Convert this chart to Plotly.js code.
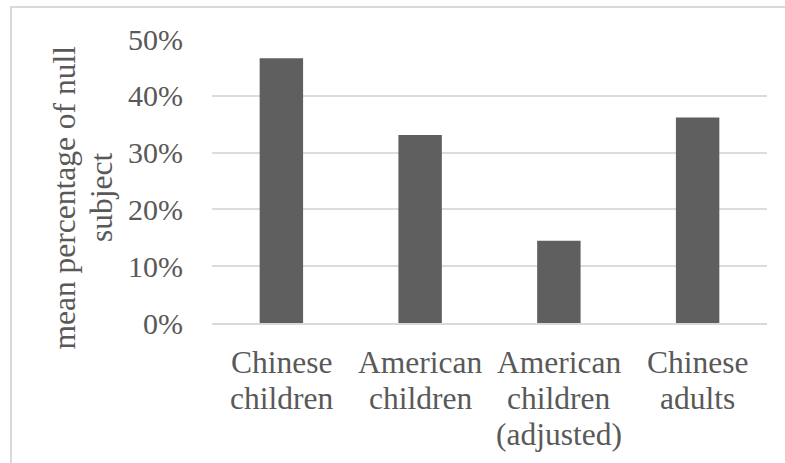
<!DOCTYPE html>
<html>
<head>
<meta charset="utf-8">
<script src="https://cdn.plot.ly/plotly-3.0.1.min.js"></script>
<style>
  html, body { margin: 0; padding: 0; background: #ffffff; }
  #wrap { position: relative; width: 785px; height: 463px; overflow: hidden; }
  #frame { position: absolute; left: 10px; top: 6px; width: 800px; height: 500px;
           border-left: 2px solid #d9d9d9; border-top: 2px solid #d9d9d9; }
  #chart { position: absolute; left: 0; top: 0; width: 785px; height: 463px; }
</style>
</head>
<body>
<div id="wrap">
  <div id="frame"></div>
  <div id="chart"></div>
</div>
<script>
// Null-subject rates by speaker group
const categories = ["Chinese children", "American children", "American children (adjusted)", "Chinese adults"];
const categoryLines = [
  ["Chinese", "children"],
  ["American", "children"],
  ["American", "children", "(adjusted)"],
  ["Chinese", "adults"]
];
const nullSubjectRate = [0.466, 0.331, 0.145, 0.362];
const yTickVals = [0, 0.1, 0.2, 0.3, 0.4, 0.5];
const yTickText = ["0%", "10%", "20%", "30%", "40%", "50%"];
const yTitleLines = ["mean percentage of null", "subject"];

const textColor = "#595959";
const serif = "Liberation Serif";
const linePitch = 36;

const annotations = [];
categories.forEach((cat, i) => {
  categoryLines[i].forEach((line, j) => {
    annotations.push({
      x: cat, xref: "x", y: 0, yref: "paper",
      xanchor: "center", yanchor: "top",
      yshift: -(20 + j * linePitch),
      text: line, showarrow: false,
      font: { family: serif, size: 31.5, color: textColor }
    });
  });
});
yTitleLines.forEach((line, j) => {
  annotations.push({
    x: 0, xref: "paper", y: 0.44, yref: "paper",
    xanchor: "center", yanchor: "middle",
    xshift: -147.5 + j * 36.5,
    textangle: -90,
    text: line, showarrow: false,
    font: { family: serif, size: 31.5, color: textColor }
  });
});

const trace = {
  type: "bar",
  x: categories,
  y: nullSubjectRate,
  marker: { color: "#5f5f5f" },
  hoverinfo: "x+y"
};

const layout = {
  width: 785, height: 463,
  margin: { l: 212, r: 18, t: 39, b: 140 },
  paper_bgcolor: "rgba(0,0,0,0)",
  plot_bgcolor: "rgba(0,0,0,0)",
  bargap: 0.687,
  showlegend: false,
  font: { family: serif, color: textColor },
  xaxis: {
    type: "category",
    showticklabels: false,
    showgrid: false,
    zeroline: false,
    showline: true,
    linecolor: "#d9d9d9",
    linewidth: 2,
    ticks: ""
  },
  yaxis: {
    range: [0, 0.5],
    tickvals: yTickVals,
    ticktext: yTickText,
    showgrid: true,
    gridcolor: "#dcdcdc",
    gridwidth: 2,
    zeroline: false,
    showline: false,
    ticks: "",
    ticklabelstandoff: 28,
    tickfont: { family: serif, size: 30, color: textColor }
  },
  annotations: annotations
};

Plotly.newPlot("chart", [trace], layout, { staticPlot: true, displayModeBar: false });
</script>
</body>
</html>
